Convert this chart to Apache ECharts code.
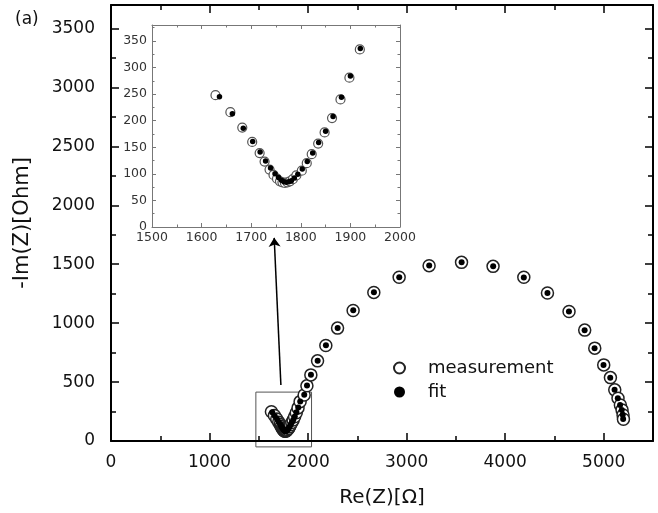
<!DOCTYPE html>
<html>
<head>
<meta charset="utf-8">
<script src="https://cdn.jsdelivr.net/npm/echarts@6/dist/echarts.min.js"></script>
<style>html,body{margin:0;padding:0;background:#fff}#c{width:658px;height:513px}</style>
</head>
<body>
<div id="c"></div>
<script>
// ---- data ----
const measRe = [1628,1658,1682,1702,1717,1727,1737,1745,1752,1758,1763,1768,1773,1778,1784,1791,1802,1812,1822,1835,1848,1863,1880,1898,1919,
  1960,1988,2028,2096,2180,2299,2457,2667,2924,3228,3557,3877,4189,4429,4648,4807,4909,5000,5068,5112,5145,5169,5186,5196,5200];
const measIm = [248,216,187,160,139,123,108,98,91,86,84,83,84,86,90,97,106,120,137,157,178,205,240,281,334,
  391,468,561,680,810,958,1108,1261,1389,1488,1516,1482,1389,1256,1099,941,788,646,538,434,363,306,264,221,185];
const fitRe = [1636,1662,1684,1703,1718,1729,1739,1748,1755,1761,1766,1771,1776,1781,1787,1794,1803,1813,1824,1836,1850,1865,1882,1900,1920,
  1961,1989,2029,2097,2181,2300,2458,2668,2925,3229,3558,3878,4189,4429,4647,4806,4907,4998,5066,5110,5143,5166,5183,5193,5197];
const fitIm = [245,213,186,161,141,124,111,100,93,88,85,84,85,87,92,99,109,123,139,159,180,208,244,284,336,
  393,470,563,682,812,960,1110,1262,1390,1489,1516,1482,1388,1255,1098,940,787,645,537,434,363,306,264,222,186];
const seriesNames = ['measurement', 'fit'];
const xTitle = 'Re(Z)[Ω]';
const yTitle = '-Im(Z)[Ohm]';
const panelLabel = '(a)';
// zoom box drawn in main plot (data coords) and arrow (data coords)
const zoomBoxRe = [1470, 2035, 2035, 1470, 1470];
const zoomBoxIm = [-50, -50, 415, 415, -50];
const arrowFrom = [1724, 476];
const arrowTo = [1656, 1724];
// axis ranges
const mainX = {min: 0, max: 5500, major: 1000, minor: 500, showMax: false};
const mainY = {min: 0, max: 3700, major: 500, minor: 250, showMax: false};
const insetX = {min: 1500, max: 2000, major: 100, minor: 50, showMax: true};
const insetY = {min: 0, max: 380, major: 50, minor: 25, showMax: false};

const FONT = 'DejaVu Sans';
const pairs = (a, b) => a.map((v, i) => [v, b[i]]);

function axes(dim, grid, r, o) {
  const pos = dim === 'x' ? ['bottom', 'top'] : ['left', 'right'];
  const base = (position, interval, len, showLine, showLabel) => ({
    type: 'value', gridIndex: grid, position, min: r.min, max: r.max, interval,
    axisLine: {show: showLine, onZero: false, lineStyle: {color: o.color, width: o.lineWidth}},
    axisTick: {show: true, inside: true, length: len, lineStyle: {color: o.color, width: o.tickWidth}},
    axisLabel: {show: showLabel, showMaxLabel: r.showMax, showMinLabel: true, margin: o.margin, fontFamily: FONT,
      fontSize: o.fontSize, color: o.labelColor, formatter: v => String(v)},
    splitLine: {show: false}, minorTick: {show: false}, z: 5
  });
  return [
    base(pos[0], r.major, o.majorLen, true, true),
    base(pos[0], r.minor, o.minorLen, false, false),
    base(pos[1], r.major, o.majorLen, true, false),
    base(pos[1], r.minor, o.minorLen, false, false)
  ];
}

const mainStyle = {color: '#000', lineWidth: 2, tickWidth: 1.5, majorLen: 8, minorLen: 5, fontSize: 17, labelColor: '#111', margin: 13};
const insetStyle = {color: '#777', lineWidth: 1, tickWidth: 1, majorLen: 4, minorLen: 2.5, fontSize: 12.5, labelColor: '#333', margin: 4};

const xA = axes('x', 0, mainX, mainStyle);
const yA = axes('y', 0, mainY, Object.assign({}, mainStyle, {margin: 16}));
xA[0].name = xTitle; xA[0].nameLocation = 'middle'; xA[0].nameGap = 47;
xA[0].nameTextStyle = {fontFamily: FONT, fontSize: 20, color: '#111'};
yA[0].name = yTitle; yA[0].nameLocation = 'middle'; yA[0].nameGap = 78;
yA[0].nameTextStyle = {fontFamily: FONT, fontSize: 21, color: '#111'};
const xI = axes('x', 1, insetX, insetStyle);
const yI = axes('y', 1, insetY, Object.assign({}, insetStyle, {margin: 5}));

const chart = echarts.init(document.getElementById('c'), null, {renderer: 'canvas'});
chart.setOption({
  backgroundColor: '#fff',
  animation: false,
  grid: [
    {left: 111, right: 5, top: 5, bottom: 72, outerBoundsMode: 'none'},
    {left: 152, right: 258, top: 25, bottom: 286, show: true, backgroundColor: '#fff', borderWidth: 0, z: 3, outerBoundsMode: 'none'}
  ],
  xAxis: xA.concat(xI),
  yAxis: yA.concat(yI),
  graphic: [{type: 'text', left: 15, top: 11, style: {text: panelLabel, fontFamily: FONT, fontSize: 17, fill: '#111'}}],
  legend: {
    orient: 'vertical', left: 388, top: 354, padding: 5, itemWidth: 11, itemHeight: 11, itemGap: 6,
    selectedMode: false, data: seriesNames,
    textStyle: {fontFamily: FONT, fontSize: 18, color: '#111', padding: [0, 0, 0, 18]}
  },
  series: [
    {type: 'line', xAxisIndex: 0, yAxisIndex: 0, data: pairs(zoomBoxRe, zoomBoxIm), symbol: 'none', clip: false, silent: true,
      lineStyle: {color: '#555', width: 1}, z: 1,
      markLine: {silent: true, symbol: ['none', 'arrow'], symbolSize: 9, label: {show: false},
        lineStyle: {color: '#000', width: 1.5, type: 'solid'},
        data: [[{coord: arrowFrom}, {coord: arrowTo}]]}},
    {name: seriesNames[0], type: 'scatter', xAxisIndex: 0, yAxisIndex: 0, data: pairs(measRe, measIm), symbol: 'circle', symbolSize: 12,
      itemStyle: {color: '#fff', borderColor: '#222', borderWidth: 1.5, opacity: 1}, z: 2},
    {name: seriesNames[1], type: 'scatter', xAxisIndex: 0, yAxisIndex: 0, data: pairs(fitRe, fitIm), symbol: 'circle', symbolSize: 6,
      itemStyle: {color: '#000', opacity: 1}, z: 2},
    {type: 'scatter', xAxisIndex: 4, yAxisIndex: 4, data: pairs(measRe, measIm), symbol: 'circle', symbolSize: 9, clip: true,
      itemStyle: {color: '#fff', borderColor: '#555', borderWidth: 1.2, opacity: 1}, z: 6},
    {type: 'scatter', xAxisIndex: 4, yAxisIndex: 4, data: pairs(fitRe, fitIm), symbol: 'circle', symbolSize: 5.5, clip: true,
      itemStyle: {color: '#000', opacity: 1}, z: 6}
  ]
});
</script>
</body>
</html>
